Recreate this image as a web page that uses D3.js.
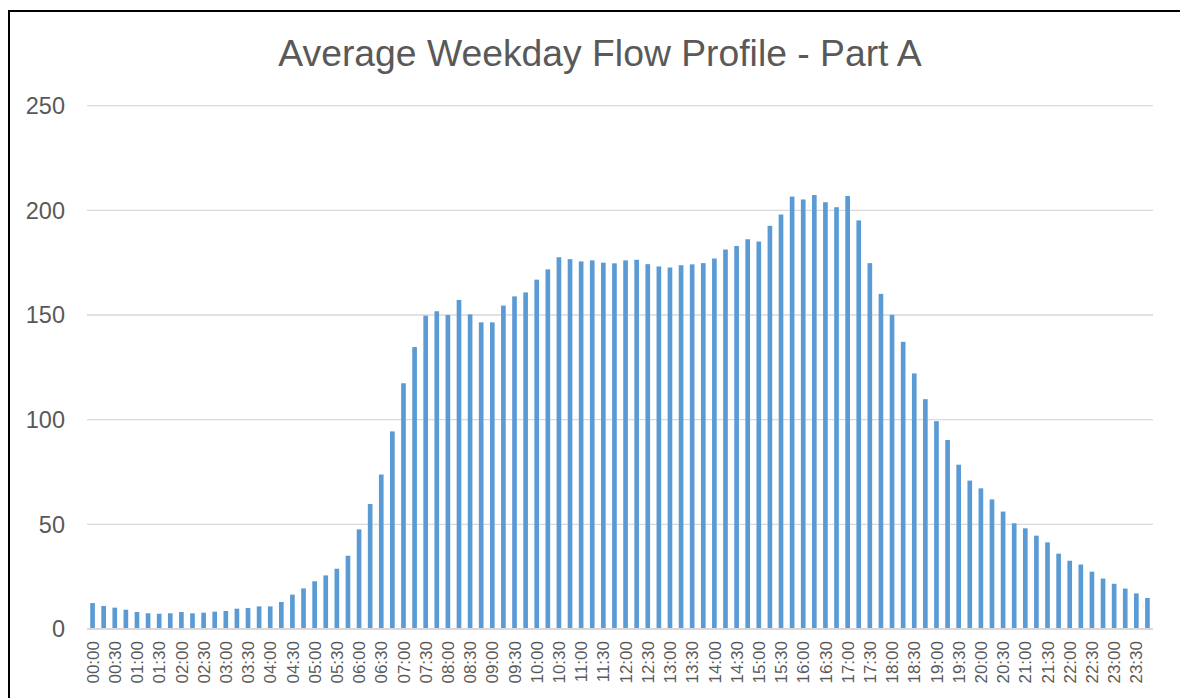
<!doctype html>
<html>
  <head>
    <title>Average Weekday Flow Profile - Part A</title>
    <style>
      html, body { margin: 0; padding: 0; background: #fff; overflow: hidden; }
      svg { display: block; font-family: "Liberation Sans", Arial, sans-serif; }
      .grid line { stroke: #d9d9d9; stroke-width: 1.3px; }
      .tick-label { fill: #595959; }
    </style>
  </head>
  <body>
    <div id="chart"></div>
    <script src="https://d3js.org/d3.v7.min.js"></script>
    <script>
      // 15 minute slots, every other one labelled on the axis
      var times = [];
      for (var h = 0; h < 24; h++) {
        for (var m = 0; m < 60; m += 15) {
          times.push((h < 10 ? "0" : "") + h + ":" + (m < 10 ? "0" : "") + m);
        }
      }

      var flows = [
        12.4, 11.0, 10.2, 9.2, 8.1, 7.5, 7.3, 7.5,
        8.1, 7.5, 7.8, 8.3, 8.6, 9.7, 10.0, 10.8,
        10.8, 12.9, 16.4, 19.4, 22.8, 25.6, 28.8, 35.0,
        47.6, 59.7, 73.8, 94.4, 117.4, 134.7, 149.7, 151.8,
        150.0, 157.2, 150.3, 146.5, 146.5, 154.5, 158.9, 160.8,
        166.9, 171.8, 177.6, 176.7, 175.6, 176.1, 175.0, 174.7,
        176.1, 176.4, 174.3, 173.2, 172.7, 173.8, 174.2, 174.8,
        177.0, 181.3, 183.0, 186.2, 185.1, 192.6, 198.0, 206.6,
        205.2, 207.3, 203.9, 201.5, 206.9, 195.2, 174.8, 160.1,
        150.1, 137.2, 122.1, 109.8, 99.3, 90.3, 78.5, 70.9,
        67.2, 61.9, 56.1, 50.5, 48.1, 44.6, 41.4, 36.0,
        32.6, 30.8, 27.4, 24.1, 21.6, 19.3, 17.0, 14.8
      ];

      var yTicks = [0, 50, 100, 150, 200, 250];
      var title = "Average Weekday Flow Profile - Part A";

      var W = 1180, H = 698;
      var plot = {left: 87, right: 1153, top: 105.7, bottom: 629};

      var svg = d3.select("#chart").append("svg")
          .attr("width", W)
          .attr("height", H);

      // outer frame: only top and left edges are inside the picture
      svg.append("path")
          .attr("d", "M9," + H + "V11H" + W)
          .attr("fill", "none")
          .attr("stroke", "#000")
          .attr("stroke-width", 2);

      var x = d3.scaleBand()
          .domain(times)
          .range([plot.left, plot.right])
          .paddingInner(0.58)
          .paddingOuter(0.29);

      var y = d3.scaleLinear()
          .domain([0, 250])
          .range([plot.bottom, plot.top]);

      // gridlines
      svg.append("g")
          .attr("class", "grid")
          .selectAll("line")
          .data(yTicks)
          .join("line")
          .attr("x1", plot.left)
          .attr("x2", plot.right)
          .attr("y1", function(d) { return y(d); })
          .attr("y2", function(d) { return y(d); });

      // y labels
      svg.append("g")
          .selectAll("text")
          .data(yTicks)
          .join("text")
          .attr("class", "tick-label")
          .attr("x", 65)
          .attr("y", function(d) { return y(d); })
          .attr("dy", "0.36em")
          .attr("text-anchor", "end")
          .style("font-size", "23.5px")
          .text(function(d) { return d; });

      // bars
      svg.append("g")
          .selectAll("rect")
          .data(flows)
          .join("rect")
          .attr("x", function(d, i) { return x(times[i]); })
          .attr("width", x.bandwidth())
          .attr("y", function(d) { return y(d); })
          .attr("height", function(d) { return y(0) - y(d); })
          .attr("fill", "#5b9bd5");

      // x axis line
      svg.append("line")
          .attr("x1", plot.left).attr("x2", plot.right)
          .attr("y1", y(0)).attr("y2", y(0))
          .attr("stroke", "#d9d9d9")
          .attr("stroke-width", 2);

      // x labels, every half hour
      var xLabels = times.filter(function(t, i) { return i % 2 === 0; });
      svg.append("g")
          .selectAll("text")
          .data(xLabels)
          .join("text")
          .attr("class", "tick-label")
          .attr("transform", function(d) {
            return "translate(" + (x(d) + x.bandwidth() / 2) + ",641) rotate(-90)";
          })
          .attr("dy", "0.36em")
          .attr("text-anchor", "end")
          .style("font-size", "17px")
          .text(function(d) { return d; });

      svg.append("text")
          .attr("x", 600)
          .attr("y", 66)
          .attr("text-anchor", "middle")
          .style("font-size", "37.3px")
          .attr("fill", "#595959")
          .text(title);
    </script>
  </body>
</html>
